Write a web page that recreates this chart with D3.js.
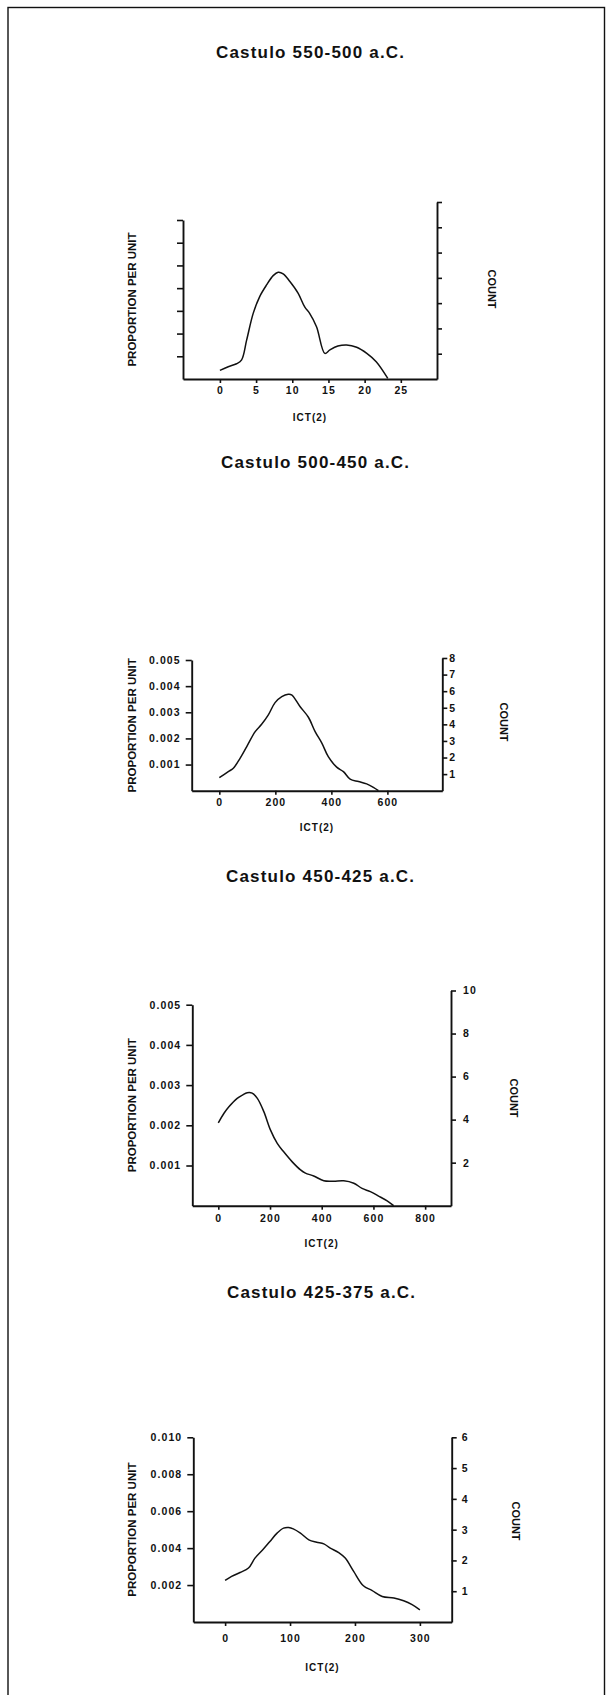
<!DOCTYPE html>
<html>
<head>
<meta charset="utf-8">
<script src="https://cdn.jsdelivr.net/npm/d3@7"></script>
<style>
  body { margin: 0; background: #fff; }
  svg text { font-family: "Liberation Sans", Arial, Helvetica, sans-serif; font-weight: bold; fill: #111; }
</style>
</head>
<body>
<svg id="chart" width="606" height="1695"></svg>
<script>
// Smoothed ICT(2) distributions, one panel per chronological phase
const titles = ["Castulo 550-500 a.C.", "Castulo 500-450 a.C.", "Castulo 450-425 a.C.", "Castulo 425-375 a.C."];

const ict1  = [0, 1.15, 2.3, 3.0, 3.7, 4.6, 5.5, 6.45, 7.36, 8.05, 8.74, 9.67, 10.8, 11.74, 12.4, 13.35, 14.5, 15.2, 16.3, 17.5, 18.9, 20.3, 21.6, 23.2];
const prop1 = [0.0076, 0.0108, 0.0134, 0.0168, 0.0344, 0.0578, 0.0726, 0.0828, 0.0910, 0.0940, 0.0926, 0.0858, 0.0756, 0.0632, 0.0578, 0.0460, 0.0226, 0.0256, 0.0290, 0.0300, 0.0280, 0.0226, 0.0152, 0.0005];

const ict2  = [0, 32, 50, 74, 98, 128, 151, 175, 199, 223, 246, 258, 288, 318, 342, 366, 389, 419, 443, 467, 497, 526, 550, 568];
const prop2 = [0.00050, 0.00073, 0.00086, 0.00124, 0.00169, 0.00226, 0.00254, 0.00290, 0.00337, 0.00360, 0.00369, 0.00367, 0.00322, 0.00281, 0.00226, 0.00182, 0.00130, 0.00090, 0.00073, 0.00044, 0.00035, 0.00026, 0.00013, 0.0];

const ict3  = [0, 22, 41, 73, 93, 112, 131, 151, 176, 202, 228, 253, 286, 318, 337, 369, 408, 446, 485, 524, 556, 588, 620, 653, 678];
const prop3 = [0.00206, 0.00230, 0.00246, 0.00267, 0.00275, 0.00281, 0.00280, 0.00267, 0.00234, 0.00188, 0.00155, 0.00134, 0.00109, 0.00089, 0.00081, 0.00074, 0.00062, 0.00061, 0.00062, 0.00056, 0.00043, 0.00035, 0.00024, 0.00012, 0.0];

const ict4  = [0, 10, 23, 36, 46, 59, 69, 80, 90, 98, 105, 116, 129, 141, 152, 162, 175, 185, 198, 213, 226, 242, 260, 275, 288, 300];
const prop4 = [0.00225, 0.00247, 0.00268, 0.00292, 0.00346, 0.00395, 0.00436, 0.00481, 0.00508, 0.00511, 0.00504, 0.00481, 0.00445, 0.00432, 0.00423, 0.00400, 0.00376, 0.00346, 0.00274, 0.00196, 0.00171, 0.00138, 0.00130, 0.00115, 0.00094, 0.00066];

// Tick values for each axis
const xTicks1 = [0, 5, 10, 15, 20, 25];
const xTicks2 = [0, 200, 400, 600];
const xTicks3 = [0, 200, 400, 600, 800];
const xTicks4 = [0, 100, 200, 300];

const propTicks1 = [0.02, 0.04, 0.06, 0.08, 0.10, 0.12, 0.14];
const propTicks2 = [0.001, 0.002, 0.003, 0.004, 0.005];
const propTicks3 = [0.001, 0.002, 0.003, 0.004, 0.005];
const propTicks4 = [0.002, 0.004, 0.006, 0.008, 0.010];

const countTicks1 = [1, 2, 3, 4, 5, 6, 7];
const countTicks2 = [1, 2, 3, 4, 5, 6, 7, 8];
const countTicks3 = [2, 4, 6, 8, 10];
const countTicks4 = [1, 2, 3, 4, 5, 6];

const panels = [
  { title: titles[0], ict: ict1, prop: prop1, xTicks: xTicks1, propTicks: propTicks1, countTicks: countTicks1,
    xDomain: [-5.1, 30], propMax: 0.14, countMax: 7, labelled: false,
    box: { left: 183, right: 437, bottom: 379, propTop: 220, countTop: 202 },
    titleY: 52, titleX: 310, countX: 492, countY: 289, tickY: 14, xLabelY: 38, rightPad: 4 },
  { title: titles[1], ict: ict2, prop: prop2, xTicks: xTicks2, propTicks: propTicks2, countTicks: countTicks2,
    xDomain: [-98.6, 796], propMax: 0.005, countMax: 8, labelled: true,
    box: { left: 191.7, right: 442.3, bottom: 790.7, propTop: 660, countTop: 658 },
    titleY: 462, titleX: 315, countX: 504, countY: 722, tickY: 14, xLabelY: 37, rightPad: 2 },
  { title: titles[2], ict: ict3, prop: prop3, xTicks: xTicks3, propTicks: propTicks3, countTicks: countTicks3,
    xDomain: [-100.6, 900], propMax: 0.005, countMax: 10, labelled: true,
    box: { left: 192.3, right: 451, bottom: 1205.7, propTop: 1004.7, countTop: 990.5 },
    titleY: 876, titleX: 320, countX: 514, countY: 1098, tickY: 15, xLabelY: 38, rightPad: 7 },
  { title: titles[3], ict: ict4, prop: prop4, xTicks: xTicks4, propTicks: propTicks4, countTicks: countTicks4,
    xDomain: [-49, 349], propMax: 0.010, countMax: 6, labelled: true,
    box: { left: 193.3, right: 451.7, bottom: 1622, propTop: 1437.3, countTop: 1437.3 },
    titleY: 1292, titleX: 321, countX: 516, countY: 1521, tickY: 19, xLabelY: 45, rightPad: 5 }
];

const svg = d3.select("#chart");
const INK = "#111";

// Page frame
svg.append("rect")
  .attr("x", 8).attr("y", 7.5).attr("width", 596.5).attr("height", 1720)
  .attr("fill", "none").attr("stroke", INK).attr("stroke-width", 1.4);

function styleAxis(g, fontSize) {
  g.selectAll(".domain").attr("stroke", INK).attr("stroke-width", 1.9);
  g.selectAll(".tick line").attr("stroke", INK).attr("stroke-width", 1.6);
  g.selectAll(".tick text")
    .attr("fill", INK)
    .style("font-size", fontSize + "px")
    .style("letter-spacing", "1.1px")
    .style("font-family", '"Liberation Sans", Arial, sans-serif')
    .style("font-weight", "bold");
}

panels.forEach(p => {
  const b = p.box;
  const x = d3.scaleLinear().domain(p.xDomain).range([b.left, b.right]);
  const yProp = d3.scaleLinear().domain([0, p.propMax]).range([b.bottom, b.propTop]);
  const yCount = d3.scaleLinear().domain([0, p.countMax]).range([b.bottom, b.countTop]);

  const g = svg.append("g");

  // Title
  g.append("text")
    .attr("x", p.titleX).attr("y", p.titleY)
    .attr("text-anchor", "middle").attr("dominant-baseline", "central")
    .attr("textLength", 188).attr("lengthAdjust", "spacing")
    .style("font-size", "17px")
    .text(p.title);

  // Bottom axis
  const gx = g.append("g").attr("transform", `translate(0,${b.bottom})`)
    .call(d3.axisBottom(x).tickValues(p.xTicks).tickSize(4).tickSizeOuter(0).tickPadding(p.tickY - 10));
  styleAxis(gx, 10.5);

  // Left axis: proportion per unit
  const gl = g.append("g").attr("transform", `translate(${b.left},0)`)
    .call(d3.axisLeft(yProp).tickValues(p.propTicks).tickSize(6).tickSizeOuter(0).tickPadding(5)
      .tickFormat(p.labelled ? d3.format(".3f") : () => ""));
  styleAxis(gl, 10.5);

  // Right axis: count
  const gr = g.append("g").attr("transform", `translate(${b.right},0)`)
    .call(d3.axisRight(yCount).tickValues(p.countTicks).tickSize(5).tickSizeOuter(0).tickPadding(p.rightPad)
      .tickFormat(p.labelled ? d3.format("d") : () => ""));
  styleAxis(gr, 10.5);

  // Axis titles
  g.append("text")
    .attr("x", (b.left + b.right) / 2).attr("y", b.bottom + p.xLabelY)
    .attr("text-anchor", "middle").attr("dominant-baseline", "central")
    .style("font-size", "10px").style("letter-spacing", "1px")
    .text("ICT(2)");

  g.append("text")
    .attr("transform", `translate(132.3,${(b.bottom + b.propTop) / 2}) rotate(-90)`)
    .attr("text-anchor", "middle").attr("dominant-baseline", "central")
    .style("font-size", "11.5px")
    .text("PROPORTION PER UNIT");

  g.append("text")
    .attr("transform", `translate(${p.countX},${p.countY}) rotate(90)`)
    .attr("text-anchor", "middle").attr("dominant-baseline", "central")
    .style("font-size", "11px")
    .text("COUNT");

  // Density curve
  const line = d3.line()
    .x((d, i) => x(p.ict[i]))
    .y(d => yProp(d))
    .curve(d3.curveCatmullRom.alpha(0.5));

  g.append("path")
    .datum(p.prop)
    .attr("d", line)
    .attr("fill", "none")
    .attr("stroke", INK)
    .attr("stroke-width", 1.5)
    .attr("stroke-linejoin", "round");
});
</script>
</body>
</html>
